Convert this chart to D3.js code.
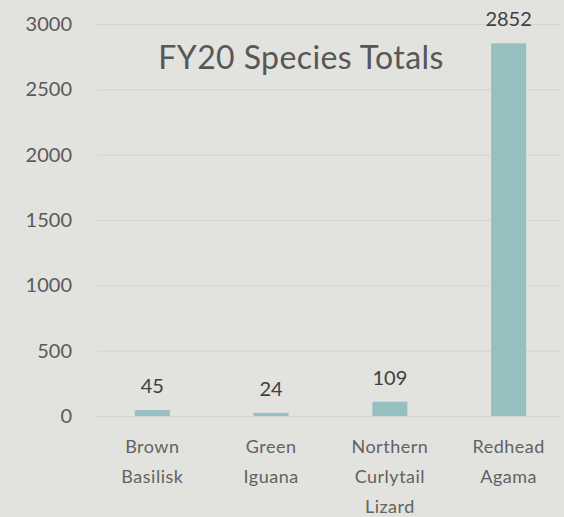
<!DOCTYPE html>
<html><head><meta charset="utf-8">
<script src="https://cdn.jsdelivr.net/npm/d3@7"></script>
<style>
html,body{margin:0;padding:0;background:#e2e2de;}
svg{display:block;}
text{font-family:Lato,"Open Sans",sans-serif;}
</style></head>
<body>
<svg id="chart" width="564" height="517"></svg>
<script>
const categories = ["Brown Basilisk","Green Iguana","Northern Curlytail Lizard","Redhead Agama"];
const categoryLines = [["Brown","Basilisk"],["Green","Iguana"],["Northern","Curlytail","Lizard"],["Redhead","Agama"]];
const values = [45,24,109,2852];
const yTicks = [0,500,1000,1500,2000,2500,3000];
const title = "FY20 Species Totals";

const svg = d3.select("#chart");
const W = 564, H = 517;
svg.append("rect").attr("width",W).attr("height",H).attr("fill","#e2e2de");

const x = d3.scaleBand().domain(categories).range([93,568]).paddingInner(0.705).paddingOuter(0.3525);
const y = d3.scaleLinear().domain([0,3000]).range([416,24]);

// gridlines
svg.append("g").selectAll("line").data(yTicks).join("line")
  .attr("x1",97).attr("x2",560)
  .attr("y1",d=>y(d)+0.5).attr("y2",d=>y(d)+0.5)
  .attr("stroke","#d4d4cf").attr("stroke-width",1);

// y tick labels
const yAxis = d3.axisLeft(y).tickValues(yTicks).tickSize(0).tickPadding(0).tickFormat(d3.format("d"));
const ga = svg.append("g").attr("transform","translate(72,0)").call(yAxis);
ga.select(".domain").remove();
ga.selectAll("text").attr("fill","#5a5a5a").style("font-size","20px").style("font-family","Lato,sans-serif");

// bars
svg.append("g").selectAll("rect").data(values).join("rect")
  .attr("x",(d,i)=>x(categories[i]))
  .attr("width",x.bandwidth())
  .attr("y",d=>y(d))
  .attr("height",d=>y(0)-y(d))
  .attr("fill","#96bfc0");

// value labels
svg.append("g").selectAll("text").data(values).join("text")
  .attr("x",(d,i)=>x(categories[i])+x.bandwidth()/2)
  .attr("y",d=>y(d)-17)
  .attr("text-anchor","middle")
  .attr("fill","#404040")
  .style("font-size","20px")
  .text(d=>d);

// category labels
const cg = svg.append("g").selectAll("text").data(categories).join("text")
  .attr("x",d=>x(d)+x.bandwidth()/2)
  .attr("y",453)
  .attr("text-anchor","middle")
  .attr("fill","#626262")
  .style("font-size","18px")
  .style("letter-spacing","0.5px");
cg.each(function(d,i){
  const t = d3.select(this);
  categoryLines[i].forEach((ln,j)=>{
    t.append("tspan").attr("x",x(d)+x.bandwidth()/2).attr("y",453+j*30).text(ln);
  });
});

// title
svg.append("text").attr("x",301).attr("y",69).attr("text-anchor","middle")
  .attr("fill","#575757").style("font-size","32px").style("letter-spacing","0.4px").text(title);
</script>
</body></html>
